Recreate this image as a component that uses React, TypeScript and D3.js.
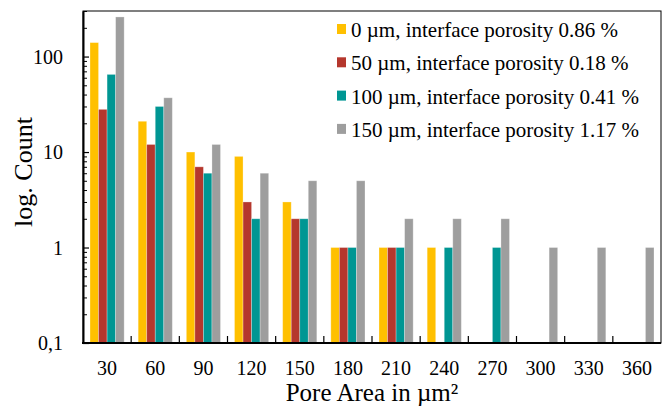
import * as d3 from "d3";
import { useEffect, useRef } from "react";

// pore area classes (µm²)
const categories = ["30", "60", "90", "120", "150", "180", "210", "240", "270", "300", "330", "360"];

const seriesNames = [
  "0 µm, interface porosity 0.86 %",
  "50 µm, interface porosity 0.18 %",
  "100 µm, interface porosity 0.41 %",
  "150 µm, interface porosity 1.17 %",
];
const seriesColors = ["#FFC000", "#B5372D", "#009693", "#9E9E9E"];

// counts per class, null = no pores (not drawn on log axis)
const counts0 = [140, 21, 10, 9, 3, 1, 1, 1, null, null, null, null];
const counts50 = [28, 12, 7, 3, 2, 1, 1, null, null, null, null, null];
const counts100 = [65, 30, 6, 2, 2, 1, 1, 1, 1, null, null, null];
const counts150 = [260, 37, 12, 6, 5, 5, 2, 2, 2, 1, 1, 1];

const majorTicks = [0.1, 1, 10, 100];
const majorLabels = ["0,1", "1", "10", "100"];

const W = 671;
const H = 407;
const margin = { left: 83, top: 11, right: 10, bottom: 64 };
const FONT = "'Liberation Serif', 'Times New Roman', serif";

export default function App() {
  const svgRef = useRef<SVGSVGElement>(null);

  useEffect(() => {
    const svg = d3.select(svgRef.current);
    svg.selectAll("*").remove();

    const innerW = W - margin.left - margin.right;
    const innerH = H - margin.top - margin.bottom;
    const allSeries = [counts0, counts50, counts100, counts150];

    const x = d3.scaleBand().domain(categories).range([0, innerW]).paddingInner(0).paddingOuter(0);
    const x1 = d3
      .scaleBand()
      .domain(seriesNames)
      .range([0, x.bandwidth()])
      .paddingInner(0)
      .paddingOuter(0.82);
    const y = d3.scaleLog().domain([0.1, 300]).range([innerH, 0]);

    const g = svg.append("g").attr("transform", `translate(${margin.left},${margin.top})`);

    // bars
    const groups = g
      .selectAll("g.cat")
      .data(categories)
      .join("g")
      .attr("class", "cat")
      .attr("transform", (d) => `translate(${x(d)},0)`);

    groups
      .selectAll("rect")
      .data((_, i) =>
        allSeries
          .map((s, si) => ({ v: s[i], name: seriesNames[si], color: seriesColors[si] }))
          .filter((d) => d.v != null)
      )
      .join("rect")
      .attr("x", (d) => x1(d.name)!)
      .attr("width", x1.bandwidth())
      .attr("y", (d) => y(d.v as number))
      .attr("height", (d) => innerH - y(d.v as number))
      .attr("fill", (d) => d.color)
      .attr("stroke", "#fff")
      .attr("stroke-opacity", 0.35)
      .attr("stroke-width", 0.8);

    // frame (top / right thin)
    g.append("rect")
      .attr("width", innerW)
      .attr("height", innerH)
      .attr("fill", "none")
      .attr("stroke", "#000")
      .attr("stroke-width", 1);

    // minor y ticks
    const minor: number[] = [];
    [0.1, 1, 10, 100].forEach((dec) => {
      for (let k = 2; k <= 9; k++) {
        const v = dec * k;
        if (v <= 300) minor.push(v);
      }
    });
    const yMinor = g
      .append("g")
      .call(
        d3.axisLeft(y).tickValues(minor).tickSizeInner(-4).tickSizeOuter(0).tickFormat(() => "")
      );
    yMinor.select(".domain").remove();
    yMinor.selectAll("line").attr("stroke", "#000").attr("stroke-width", 1);

    // major y ticks
    const yAxis = g
      .append("g")
      .call(
        d3
          .axisLeft(y)
          .tickValues(majorTicks)
          .tickSizeInner(-6)
          .tickSizeOuter(0)
          .tickPadding(20)
          .tickFormat((_, i) => majorLabels[i])
      );
    yAxis.select(".domain").attr("stroke", "#000").attr("stroke-width", 2);
    yAxis.selectAll("line").attr("stroke", "#000").attr("stroke-width", 1.2);
    yAxis
      .selectAll("text")
      .attr("font-family", FONT)
      .attr("font-size", 20)
      .attr("fill", "#000")
      .attr("dy", "0.34em");

    // x axis: ticks at band boundaries, pointing up
    const boundaries = categories.slice(1).map((c) => x(c)!);
    g.append("g")
      .selectAll("line")
      .data(boundaries)
      .join("line")
      .attr("x1", (d) => d)
      .attr("x2", (d) => d)
      .attr("y1", innerH)
      .attr("y2", innerH - 7)
      .attr("stroke", "#000")
      .attr("stroke-width", 1.2);

    g.append("line")
      .attr("x1", -1)
      .attr("x2", innerW)
      .attr("y1", innerH)
      .attr("y2", innerH)
      .attr("stroke", "#000")
      .attr("stroke-width", 2);

    g.append("g")
      .selectAll("text")
      .data(categories)
      .join("text")
      .attr("x", (d) => x(d)! + x.bandwidth() / 2)
      .attr("y", innerH + 32)
      .attr("text-anchor", "middle")
      .attr("font-family", FONT)
      .attr("font-size", 20)
      .text((d) => d);

    // axis titles
    g.append("text")
      .attr("x", innerW / 2)
      .attr("y", innerH + 58)
      .attr("text-anchor", "middle")
      .attr("font-family", FONT)
      .attr("font-size", 25)
      .text("Pore Area in µm²");

    svg
      .append("text")
      .attr("transform", `translate(32,${margin.top + innerH / 2 - 5}) rotate(-90)`)
      .attr("text-anchor", "middle")
      .attr("font-family", FONT)
      .attr("font-size", 26)
      .text("log. Count");

    // legend
    const legend = svg.append("g").attr("transform", "translate(337,37)");
    const rows = legend
      .selectAll("g")
      .data(seriesNames)
      .join("g")
      .attr("transform", (_, i) => `translate(0,${i * 33.3})`);
    rows
      .append("rect")
      .attr("x", 0)
      .attr("y", -13)
      .attr("width", 9)
      .attr("height", 10)
      .attr("fill", (_, i) => seriesColors[i]);
    rows
      .append("text")
      .attr("x", 14)
      .attr("y", 0)
      .attr("font-family", FONT)
      .attr("font-size", 21)
      .text((d) => d);
  }, []);

  return (
    <svg
      ref={svgRef}
      width={W}
      height={H}
      style={{ position: "absolute", top: 0, left: 0, background: "#fff" }}
    />
  );
}
